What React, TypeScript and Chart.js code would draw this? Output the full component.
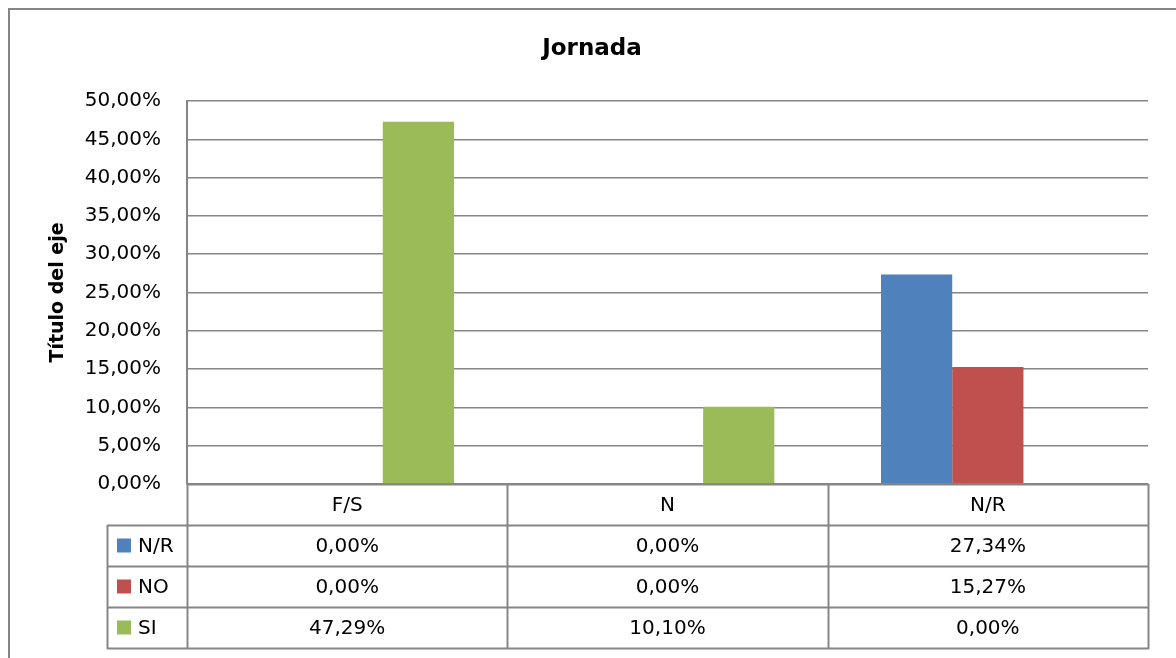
import React, { useEffect, useRef } from "react";
import { Chart, registerables } from "chart.js";

Chart.register(...registerables);

const categories = ["F/S", "N", "N/R"];
const seriesNames = ["N/R", "NO", "SI"];
const seriesNR = [0, 0, 27.34];
const seriesNO = [0, 0, 15.27];
const seriesSI = [47.29, 10.1, 0];
const seriesColors = ["#4F81BD", "#C0504D", "#9BBB59"];
const yMin = 0;
const yMax = 50;
const yStep = 5;
const chartTitle = "Jornada";
const yAxisTitle = "Título del eje";

const FONT = "'DejaVu Sans', sans-serif";
const GRID = "#868686";
const fmt = (v: number) => v.toFixed(2).replace(".", ",") + "%";

const W = 1176;
const H = 658;

const frame = {
  id: "frame",
  beforeDraw(chart: any) {
    const ctx = chart.ctx;
    ctx.save();
    ctx.fillStyle = "#ffffff";
    ctx.fillRect(0, 0, chart.width, chart.height);
    ctx.strokeStyle = GRID;
    ctx.lineWidth = 2;
    ctx.strokeRect(9, 9, chart.width + 20, chart.height + 20);
    ctx.fillStyle = "#000";
    ctx.font = `bold 23px ${FONT}`;
    ctx.textAlign = "center";
    ctx.textBaseline = "middle";
    ctx.fillText(chartTitle, 592, 49);
    ctx.restore();
  },
  afterDraw(chart: any) {
    const ctx = chart.ctx;
    const area = chart.chartArea;
    const xs = chart.scales.x;
    const left = Math.round(area.left);
    const right = Math.round(area.right);
    const top = Math.round(area.bottom);
    const n = categories.length;
    const catW = (right - left) / n;
    const rowH = 41;
    const legendLeft = 107;
    const rowsY = [top, top + rowH, top + 2 * rowH, top + 3 * rowH, top + 4 * rowH];
    ctx.save();
    ctx.strokeStyle = GRID;
    const hl = (x1: number, x2: number, y: number) => {
      ctx.beginPath();
      ctx.moveTo(x1, y + 0.5);
      ctx.lineTo(x2, y + 0.5);
      ctx.stroke();
    };
    const vl = (x: number, y1: number, y2: number) => {
      ctx.beginPath();
      ctx.moveTo(x + 0.5, y1);
      ctx.lineTo(x + 0.5, y2);
      ctx.stroke();
    };
    ctx.lineWidth = 2;
    hl(left, right + 1, rowsY[0]);
    hl(legendLeft, right + 1, rowsY[1]);
    hl(legendLeft, right + 1, rowsY[2]);
    hl(legendLeft, right + 1, rowsY[3]);
    hl(legendLeft, right + 1, rowsY[4]);
    vl(legendLeft, rowsY[1], rowsY[4] + 1);
    vl(left, top, rowsY[4] + 1);
    for (let i = 0; i < n; i++) {
      const c = xs.getPixelForValue(i);
      const xr = Math.round(c + catW / 2);
      vl(xr, top, rowsY[4] + 1);
    }
    ctx.fillStyle = "#000";
    ctx.font = `20px ${FONT}`;
    ctx.textAlign = "center";
    ctx.textBaseline = "middle";
    const data = [seriesNR, seriesNO, seriesSI];
    for (let i = 0; i < n; i++) {
      const c = xs.getPixelForValue(i);
      ctx.fillText(categories[i], c, (rowsY[0] + rowsY[1]) / 2 + 1);
      for (let s = 0; s < data.length; s++) {
        ctx.fillText(fmt(data[s][i]), c, (rowsY[s + 1] + rowsY[s + 2]) / 2 + 1);
      }
    }
    ctx.textAlign = "left";
    for (let s = 0; s < seriesNames.length; s++) {
      const cy = (rowsY[s + 1] + rowsY[s + 2]) / 2;
      ctx.fillStyle = seriesColors[s];
      ctx.fillRect(117, cy - 7, 14, 14);
      ctx.fillStyle = "#000";
      ctx.fillText(seriesNames[s], 138, cy + 1);
    }
    ctx.restore();
  },
};

export default function App() {
  const ref = useRef<HTMLCanvasElement | null>(null);
  useEffect(() => {
    if (!ref.current) return;
    const chart = new Chart(ref.current, {
      type: "bar",
      data: {
        labels: categories,
        datasets: [
          { label: seriesNames[0], data: seriesNR, backgroundColor: seriesColors[0] },
          { label: seriesNames[1], data: seriesNO, backgroundColor: seriesColors[1] },
          { label: seriesNames[2], data: seriesSI, backgroundColor: seriesColors[2] },
        ],
      },
      options: {
        responsive: false,
        animation: false,
        devicePixelRatio: 1,
        layout: { padding: { left: 0, top: 101, right: W - 1148, bottom: H - 484 } },
        datasets: { bar: { categoryPercentage: 0.667, barPercentage: 1 } },
        plugins: { legend: { display: false }, title: { display: false }, tooltip: { enabled: false } },
        scales: {
          x: { display: false },
          y: {
            min: yMin,
            max: yMax,
            afterFit: (s: any) => {
              s.width = 187;
            },
            ticks: {
              stepSize: yStep,
              padding: 26,
              color: "#000",
              font: { family: FONT, size: 20 },
              callback: (v: any) => fmt(Number(v)),
            },
            grid: { color: GRID, lineWidth: 1.5, drawTicks: false },
            border: { display: true, color: GRID, width: 2 },
            title: {
              display: true,
              text: yAxisTitle,
              color: "#000",
              font: { family: FONT, size: 19, weight: "bold" },
              padding: { top: 47, bottom: 0 },
            },
          },
        },
      },
      plugins: [frame],
    });
    return () => chart.destroy();
  }, []);
  return (
    <div style={{ position: "fixed", left: 0, top: 0, width: W, height: H, overflow: "hidden", background: "#fff" }}>
      <canvas ref={ref} width={W} height={H} style={{ display: "block", width: W, height: H }} />
    </div>
  );
}
